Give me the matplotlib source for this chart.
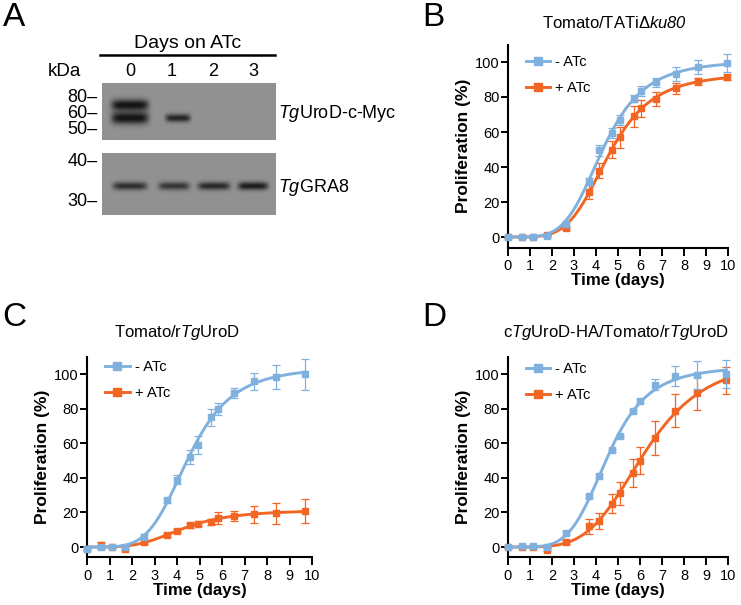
import matplotlib
matplotlib.use("Agg")
import matplotlib.pyplot as plt
import numpy as np
from matplotlib.lines import Line2D

plt.rcParams["font.family"] = ["Liberation Sans", "DejaVu Sans"]
plt.rcParams["mathtext.fontset"] = "custom"
plt.rcParams["mathtext.rm"] = "Liberation Sans"
plt.rcParams["mathtext.it"] = "Liberation Sans:italic"
plt.rcParams["mathtext.sf"] = "Liberation Sans:italic"  # italic that keeps digits italic too

# ---- data ----
lane_labels = ["0", "1", "2", "3"]
kda_top = ["80", "60", "50"]
kda_bottom = ["40", "30"]
uroD_upper = [1.0, 0.0, 0.0, 0.0]   # band intensity per lane
uroD_lower = [1.0, 0.85, 0.0, 0.0]
gra8 = [0.78, 0.72, 0.82, 0.92]

t_b = [0, 0.64, 1.14, 1.77, 2.65, 3.68, 4.14, 4.73, 5.1, 5.73, 6.03, 6.71, 7.62, 8.64, 9.97]
b_minus = [0, 0, 0, 0.5, 7.5, 32, 49.5, 59.5, 67, 79, 83.5, 88.5, 93, 97, 99.5]
b_minus_err = [0.5, 0.5, 0.5, 0.5, 1.5, 2, 3, 3, 3, 2, 3, 2.5, 4, 4, 5]
b_plus = [0, 0, 0, 1, 5, 25.5, 38, 50, 57, 69, 73.5, 79, 85, 89, 91.5]
b_plus_err = [0.5, 0.5, 0.5, 0.5, 1, 4, 4.5, 5, 6, 6, 5, 4, 3, 2, 1.5]

t_c = [0, 0.62, 1.13, 1.7, 2.55, 3.56, 4.0, 4.56, 4.92, 5.53, 5.82, 6.52, 7.42, 8.38, 9.7]
c_minus = [-1, 0, 0, 0, 6, 27, 39, 52, 59, 75, 80, 89, 96, 98.5, 100]
c_minus_err = [1, 0.5, 0.5, 1, 1.5, 1.5, 2.5, 4, 5, 5, 3.5, 3, 5, 7, 9]
c_plus = [-1, 1, 0, -1, 3, 7, 9.5, 12.5, 13.5, 14.5, 17, 18, 19, 19.5, 21]
c_plus_err = [1, 2, 0.5, 1, 1, 1, 1, 1.5, 1.5, 2, 3.5, 3, 5, 6, 7]

t_d = [0, 0.64, 1.14, 1.77, 2.65, 3.67, 4.14, 4.71, 5.08, 5.68, 5.98, 6.7, 7.58, 8.61, 9.92]
d_minus = [0, 0.5, 0.5, 0, 8, 29.5, 41, 56, 64, 78.5, 84.5, 94, 99, 99.5, 100]
d_minus_err = [0.5, 0.5, 0.5, 0.5, 1, 1, 1, 1, 1, 1, 1, 3, 6, 8, 8]
d_plus = [0, 0, 0, -1.5, 3, 12, 15, 25, 31, 43, 50, 63, 79, 89, 96.5]
d_plus_err = [0.5, 0.5, 0.5, 1, 1, 4.5, 4.5, 5.5, 6.5, 8, 8, 10, 9.5, 9.5, 8]

BLUE = "#80b1de"
ORANGE = "#f26522"

W, H = 741, 605
fig = plt.figure(figsize=(W / 100, H / 100), dpi=100)


def fx(x):
    return x / W


def fy(y):
    return 1 - y / H


def hill(x, top, x0, h):
    x = np.asarray(x, float)
    with np.errstate(divide="ignore", over="ignore"):
        r = np.where(x > 0, (x0 / np.maximum(x, 1e-9)) ** h, np.inf)
    return top / (1 + r)


def fit_hill(t, y):
    # least-squares fit of a Hill curve: grid over (x0, h), top solved linearly
    t = np.asarray(t, float)
    y = np.asarray(y, float)
    x0s = np.linspace(1.5, 12, 421)
    hs = np.linspace(1, 9, 321)
    X0, HH = np.meshgrid(x0s, hs, indexing="ij")
    F = hill(t[None, None, :], 1.0, X0[..., None], HH[..., None])
    top = (F * y).sum(-1) / (F * F).sum(-1)
    res = ((top[..., None] * F - y) ** 2).sum(-1)
    i = np.unravel_index(res.argmin(), res.shape)
    return top[i], X0[i], HH[i]


# ---- panel A: blot ----
def blot(ax_rect, h, w, bands):
    ax = fig.add_axes(ax_rect)
    yy, xx = np.mgrid[0:h, 0:w] + 0.5
    img = np.full((h, w), 0.57)
    for cx, cy, bw, bh, inten in bands:
        if inten <= 0:
            continue
        img -= inten * 0.5 * np.exp(-((xx - cx) / (bw / 2)) ** 6) * np.exp(-((yy - cy) / (bh / 2)) ** 2)
    img = np.clip(img, 0.08, 1)
    ax.imshow(img, cmap="gray", vmin=0, vmax=1, extent=(0, w, h, 0),
              aspect="auto", interpolation="bilinear")
    ax.set_axis_off()
    return ax


lane_x = [28, 72, 112, 151]
top_bands = []
for i, v in enumerate(uroD_upper):
    top_bands.append((lane_x[i], 22, 37, 11, v))
for i, v in enumerate(uroD_lower):
    top_bands.append((lane_x[i] + (4 if i == 1 else 0), 35, 37 if i == 0 else 25, 12 if i == 0 else 8, v))
blot([fx(102), fy(140), fx(174), 57 / H], 57, 174, top_bands)

bot_bands = [(lane_x[i], 33, [34, 31, 32, 30][i], 8, v) for i, v in enumerate(gra8)]
blot([fx(102), fy(215), fx(174), 62 / H], 62, 174, bot_bands)

fig.text(fx(3), fy(18), "A", fontsize=24, va="center", ha="left")
fig.text(fx(188), fy(44), "Days on ATc", fontsize=14, ha="center", va="center")
fig.add_artist(Line2D([fx(100), fx(275)], [fy(55), fy(55)], color="black", lw=1.8,
                      transform=fig.transFigure))
fig.text(fx(64), fy(71), "kDa", fontsize=13.5, ha="center", va="center")
for lx, lab in zip([130, 172, 213, 253], lane_labels):
    fig.text(fx(lx), fy(72), lab, fontsize=13, ha="center", va="center")
for yy, lab in zip([97, 113, 129], kda_top):
    fig.text(fx(98), fy(yy), lab + "\u2013", fontsize=13, ha="right", va="center")
for yy, lab in zip([161, 201], kda_bottom):
    fig.text(fx(98), fy(yy), lab + "\u2013", fontsize=13, ha="right", va="center")
fig.text(fx(278), fy(113), r"$\mathsf{Tg}$UroD-c-Myc", fontsize=13, ha="left", va="center")
fig.text(fx(278), fy(187), r"$\mathsf{Tg}$GRA8", fontsize=13, ha="left", va="center")


# ---- growth panels ----
def growth(rect, t, ym, em, yp, ep, title, title_xy, letter_xy, letter, leg_y):
    ax = fig.add_axes(rect)
    tt = np.linspace(0, t[-1], 400)
    for y, e, c, z in [(yp, ep, ORANGE, 2), (ym, em, BLUE, 3)]:
        top, x0, h = fit_hill(t, y)
        ax.plot(tt, hill(tt, top, x0, h), color=c, lw=2.1, zorder=z, clip_on=False)
        ax.errorbar(t, y, yerr=e, fmt="s", color=c, ms=5, elinewidth=0.9, capsize=3,
                    capthick=0.9, zorder=z, clip_on=False)
    ax.set_xlim(0, 10)
    ax.set_ylim(-6, 110)
    ax.set_xticks(range(11))
    ax.set_yticks(range(0, 101, 20))
    for s in ["top", "right"]:
        ax.spines[s].set_visible(False)
    for s in ["left", "bottom"]:
        ax.spines[s].set_linewidth(1.5)
    ax.tick_params(axis="y", direction="out", length=5, width=1.4, labelsize=10.5, pad=1)
    ax.tick_params(axis="x", direction="out", length=5.5, width=1.4, labelsize=10.5, pad=2.5)
    ax.set_xlabel("Time (days)", fontsize=12.2, fontweight="bold", labelpad=0)
    ax.set_ylabel("Proliferation (%)", fontsize=12.5, fontweight="bold", labelpad=3)
    handles = [Line2D([], [], color=BLUE, marker="s", ms=5.5, lw=2.1),
               Line2D([], [], color=ORANGE, marker="s", ms=5.5, lw=2.1)]
    ax.legend(handles, ["- ATc", "+ ATc"], loc="upper left", bbox_to_anchor=(0.08, leg_y),
              frameon=False, fontsize=10.5, handlelength=1.7, handletextpad=0.35,
              labelspacing=0.85, borderpad=0, borderaxespad=0)
    fig.text(fx(title_xy[0]), fy(title_xy[1]), title, fontsize=12, ha="center", va="center")
    fig.text(fx(letter_xy[0]), fy(letter_xy[1]), letter, fontsize=24, ha="left", va="center")
    return ax


growth([fx(508), fy(247.5), fx(220), 203 / H], t_b, b_minus, b_minus_err, b_plus, b_plus_err,
       r"Tomato/TATi$\Delta$$\mathsf{ku80}$", (615, 23), (422, 18), "B", 0.95)
growth([fx(87), fy(557.4), fx(225), 200.4 / H], t_c, c_minus, c_minus_err, c_plus, c_plus_err,
       r"Tomato/r$\mathsf{Tg}$UroD", (177, 333), (2, 317), "C", 0.985)
growth([fx(508), fy(557.4), fx(220), 200.4 / H], t_d, d_minus, d_minus_err, d_plus, d_plus_err,
       r"c$\mathsf{Tg}$UroD-HA/Tomato/r$\mathsf{Tg}$UroD", (616, 333), (422, 318), "D", 0.975)

fig.savefig("out.png", dpi=100)
